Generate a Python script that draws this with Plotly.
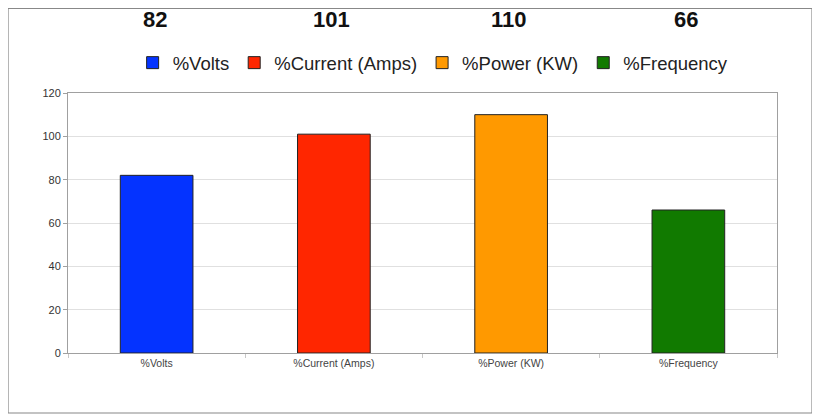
import plotly.graph_objects as go

categories = ["%Volts", "%Current (Amps)", "%Power (KW)", "%Frequency"]
values = [82, 101, 110, 66]
colors = ["#0433ff", "#ff2600", "#ff9900", "#117a00"]

fig = go.Figure()
for cat, val, col in zip(categories, values, colors):
    fig.add_trace(go.Bar(
        x=[cat], y=[val], name=cat,
        marker=dict(color=col, line=dict(color="#222222", width=1)),
        width=0.41,
    ))

for cat, val in zip(categories, values):
    fig.add_annotation(x=cat, y=1.281, xref="x", yref="paper", text=f"<b>{val}</b>",
                       showarrow=False, font=dict(size=22, color="#111111"),
                       xanchor="center", yanchor="middle", xshift=-2)

fig.add_shape(type="rect", xref="paper", yref="paper",
              x0=-0.0846, x1=1.0494, y0=-0.2308, y1=1.325,
              line=dict(color="#888888", width=1.2), layer="below")

fig.update_layout(
    width=812, height=407,
    margin=dict(l=60, r=43, t=85, b=62),
    paper_bgcolor="white", plot_bgcolor="white",
    font=dict(family="Liberation Sans, Arial, sans-serif", color="#333333"),
    barmode="overlay",
    showlegend=True,
    legend=dict(orientation="h", x=0.515, xanchor="center", y=1.115, yanchor="middle",
                font=dict(size=18.5, color="#222222"), itemwidth=30,
                traceorder="normal", itemclick=False),
    xaxis=dict(showgrid=False, showline=True, linecolor="#a0a0a0", linewidth=1, mirror=True,
               ticks="outside", tickson="boundaries", ticklen=4, tickcolor="#c8c8c8",
               tickfont=dict(size=10.5, color="#444444")),
    yaxis=dict(range=[0, 120], dtick=20, showgrid=True, gridcolor="#e0e0e0", gridwidth=1,
               showline=True, linecolor="#a0a0a0", linewidth=1, mirror=True,
               ticks="outside", ticklen=4, tickcolor="#a0a0a0", zeroline=False,
               tickfont=dict(size=11, color="#333333")),
)

fig.write_html("out.html")
